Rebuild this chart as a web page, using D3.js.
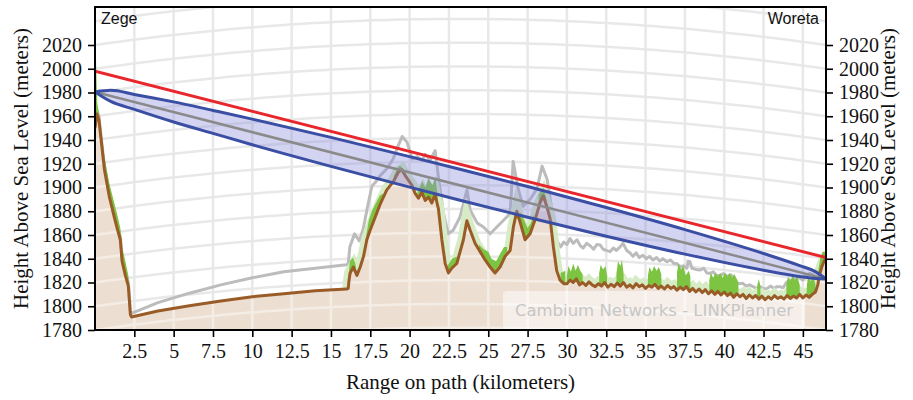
<!DOCTYPE html>
<html>
<head>
<meta charset="utf-8">
<script src="https://cdn.jsdelivr.net/npm/d3@7"></script>
<style>
  body { margin: 0; background: #fff; }
  svg { display: block; }
</style>
</head>
<body>
<svg id="chart" width="913" height="400"></svg>
<script>
// ---- Link path: Zege -> Woreta ----
const siteNames = ["Zege", "Woreta"];
const pathLengthKm = 46.47;
const heightDomain = [1780, 2052];

const xTickValues = [2.5, 5, 7.5, 10, 12.5, 15, 17.5, 20, 22.5, 25, 27.5, 30, 32.5, 35, 37.5, 40, 42.5, 45];
const yTickValues = [1780, 1800, 1820, 1840, 1860, 1880, 1900, 1920, 1940, 1960, 1980, 2000, 2020];

// Terrain profile (brown line), km along path / metres
const groundKm = [0, 0.12, 0.25, 0.34, 0.6, 0.9, 1.17, 1.4, 1.61, 1.72, 1.93, 2.12, 2.25, 2.32,
  4, 6, 8, 10, 12, 14, 16, 16.1,
  16.15, 16.22, 16.43, 16.65, 16.86, 17.07, 17.28, 17.49, 17.81, 18.13, 18.55, 18.97, 19.29, 19.51, 19.72, 19.93,
  20.14, 20.35, 20.56, 20.78, 20.99, 21.2, 21.41, 21.62, 21.83, 22.05, 22.26, 22.47, 22.68, 23.0, 23.42, 23.64,
  23.85, 24.16, 24.48, 24.8, 25.12, 25.43, 25.75, 26.07, 26.39, 26.6, 26.81, 27.02, 27.34, 27.66, 27.98, 28.29,
  28.5, 28.72, 28.93, 29.14, 29.35, 29.56, 29.8,
  30.0, 30.2, 30.4, 30.6, 30.8, 31.0, 31.2, 31.4, 31.6, 31.8, 32.0, 32.2, 32.4, 32.6, 32.8, 33.0, 33.2, 33.4,
  33.6, 33.8, 34.0, 34.2, 34.4, 34.6, 34.8, 35.0, 35.2, 35.4, 35.6, 35.8, 36.0, 36.2, 36.4, 36.6, 36.8, 37.0,
  37.2, 37.4, 37.6, 37.8, 38.0, 38.2, 38.4, 38.6, 38.8, 39.0, 39.2, 39.4, 39.6, 39.8, 40.0, 40.2, 40.4, 40.6,
  40.8, 41.0, 41.2, 41.4, 41.6, 41.8, 42.0, 42.2, 42.4, 42.6, 42.8, 43.0, 43.2, 43.4, 43.6, 43.8, 44.0, 44.2,
  44.4, 44.6, 44.8, 45.0, 45.2, 45.4, 45.6, 45.8, 45.95, 46.05, 46.2, 46.35, 46.47];
const groundM = [1950, 1962, 1957, 1946, 1915, 1893, 1878, 1866, 1856, 1838, 1826, 1817, 1793, 1791,
  1796, 1800.5, 1804.5, 1808, 1810.5, 1813, 1814.5, 1815,
  1822, 1828, 1833, 1826, 1833, 1842, 1856, 1864, 1875, 1886, 1898, 1905, 1913, 1915, 1910, 1906,
  1902, 1895, 1891, 1896, 1889, 1892, 1887, 1894, 1882, 1856, 1836, 1828, 1832, 1836, 1856, 1872,
  1864, 1853, 1846, 1839, 1833, 1828, 1833, 1842, 1847, 1867, 1880, 1871, 1856, 1861, 1873, 1887,
  1893, 1884, 1874, 1850, 1830, 1822, 1819,
  1819, 1822, 1820, 1823, 1818, 1820, 1817.5, 1820.5, 1818, 1816.5, 1819, 1817, 1820, 1816, 1818.5, 1816.5, 1819.5, 1817,
  1820, 1816, 1818, 1815.5, 1819, 1816.5, 1818, 1815, 1817.5, 1816, 1818.5, 1815, 1817, 1814.5, 1817.5, 1815, 1816.5, 1813.5,
  1816, 1814, 1816.5, 1812.5, 1815, 1812, 1814.5, 1811.5, 1814, 1810.5, 1813, 1810, 1812.5, 1809.5, 1812, 1809, 1811, 1807.5,
  1810.5, 1808, 1810, 1806.5, 1809.5, 1807, 1809, 1806, 1808.5, 1805.5, 1808, 1806, 1809, 1806.5, 1808, 1806, 1809, 1806.5,
  1808.5, 1807, 1810, 1807, 1809.5, 1807.5, 1810, 1812, 1818, 1826, 1833, 1838, 1840];

// Obstruction profile (grey line)
const obstructionKm = [0, 0.12, 0.25, 0.34, 0.6, 0.9, 1.17, 1.4, 1.61, 1.72, 1.93, 2.12, 2.25, 2.32,
  4, 6, 8, 10, 12, 14, 16, 16.1,
  16.2, 16.5, 16.8, 17.05, 17.3, 17.6, 17.8, 18.13, 18.57, 18.95, 19.27, 19.53, 19.84, 20.16, 20.48, 20.8, 20.99,
  21.3, 21.62, 21.81, 22.13, 22.45, 22.77, 23.2, 23.65, 23.85, 24.3, 24.67, 25.12, 25.56, 25.94, 26.39, 26.58,
  26.9, 27.21, 27.66, 28.1, 28.42, 28.74, 29.06,
  29.37, 29.6, 29.8, 30.0, 30.2, 30.4, 30.64, 30.85, 31.03, 31.25, 31.48, 31.7, 31.9, 32.11, 32.3, 32.5, 32.75,
  32.95, 33.15, 33.38, 33.57, 33.8, 34.0, 34.2, 34.4, 34.6, 34.83, 35.05, 35.25, 35.47, 35.7, 35.9, 36.1, 36.36,
  36.6, 36.8, 36.99, 37.2, 37.4, 37.63, 37.7, 37.82, 37.95, 38.2, 38.46, 38.7, 38.9, 39.1, 39.3, 39.5, 39.73,
  39.95, 40.2, 40.4, 40.55, 40.7, 40.9, 41.19, 41.4, 41.6, 41.83, 42.05, 42.3, 42.5, 42.72, 42.95, 43.15, 43.35,
  43.54, 43.75, 43.95, 44.18, 44.4, 44.6, 44.81, 45.0, 45.2, 45.45, 45.65, 45.85, 46.08, 46.3, 46.47];
const obstructionM = [1953, 1965, 1960, 1949, 1918, 1896, 1881, 1869, 1859, 1841, 1829, 1820, 1796, 1794,
  1803, 1811, 1818, 1824, 1829, 1832, 1835, 1836,
  1850, 1861, 1855, 1865, 1882, 1901, 1904, 1910, 1916, 1924, 1935, 1943, 1938, 1924, 1926, 1923, 1928,
  1923, 1931, 1911, 1880, 1861, 1864, 1875, 1898, 1881, 1870, 1867, 1861, 1867, 1872, 1878, 1922,
  1899, 1884, 1890, 1899, 1918, 1907, 1880,
  1855, 1850, 1854, 1852, 1857, 1853, 1856, 1851, 1849, 1853, 1851, 1848, 1852, 1851.6, 1848, 1847, 1846,
  1849, 1847, 1850, 1853, 1847, 1845, 1842, 1845, 1841, 1843, 1840, 1842, 1839, 1841, 1838, 1840, 1837.5,
  1839, 1836, 1836, 1833, 1834, 1832, 1838, 1837.5, 1832, 1831, 1830.5, 1832, 1828, 1827.7, 1829, 1826, 1826,
  1827.5, 1825, 1826.5, 1825, 1821, 1819, 1819.3, 1817, 1818, 1816.5, 1815, 1816.5, 1814.5, 1815, 1817, 1815, 1816.5,
  1816.5, 1815.5, 1820, 1822, 1821, 1824, 1824, 1822, 1826, 1827.7, 1826, 1830, 1836, 1840, 1843];

// Clutter (green) top heights; null separates patches
const clutterKm = [0, 0.06, 0.14, 0.25, 0.34, 0.6, 0.9, 1.17, 1.4, 1.61, 1.72, 1.93, 2.12, 2.25, 2.26,
  16.11, 16.2, 16.4, 16.55, 16.65, 16.66,
  17.2, 17.4, 17.6, 17.9, 18.1, 18.3, 18.31,
  19.0, 19.3, 19.5, 19.51,
  20.5, 20.8, 21.0, 21.2, 21.45, 21.65, 21.8, 21.81,
  22.4, 22.7, 23.0, 23.01,
  24.4, 24.7, 25.0, 25.2, 25.5, 25.8, 26.0, 26.2, 26.21,
  27.0, 27.3, 27.5, 27.7, 27.9, 27.91,
  28.2, 28.5, 28.7, 28.71,
  29.6, 29.9, 29.91,
  30.0, 30.1, 30.25, 30.4, 30.55, 30.7, 30.85, 31.0, 31.01,
  32.05, 32.15, 32.3, 32.45, 32.55, 32.56,
  33.15, 33.25, 33.4, 33.5, 33.6, 33.61,
  35.15, 35.25, 35.4, 35.55, 35.7, 35.85, 36.0, 36.01,
  37.0, 37.1, 37.25, 37.4, 37.55, 37.75, 37.85, 37.86,
  39.05, 39.15, 39.3, 39.45, 39.6, 39.75, 39.9, 40.05, 40.2, 40.35, 40.5, 40.65, 40.8, 40.9, 40.91,
  42.1, 42.2, 42.3, 42.31,
  43.95, 44.05, 44.2, 44.35, 44.5, 44.65, 44.8, 44.81,
  45.25, 45.35, 45.5, 45.65, 45.8, 45.81,
  45.98, 46.1, 46.25, 46.47];
const clutterTopM = [1990, 2010, 1972, 1962, 1954, 1926, 1904, 1890, 1878, 1866, 1850, 1838, 1826, 1796, null,
  1824, 1838, 1841, 1836, 1827, null,
  1856, 1872, 1880, 1888, 1893, 1895, null,
  1910, 1918, 1918, null,
  1896, 1905, 1900, 1908, 1902, 1909, 1890, null,
  1834, 1840, 1842, null,
  1852, 1848, 1846, 1840, 1838, 1845, 1850, 1850, null,
  1880, 1872, 1866, 1870, 1878, null,
  1894, 1900, 1890, null,
  1828, 1830, null,
  1826, 1834, 1829, 1836, 1830, 1835, 1830, 1827, null,
  1828, 1835, 1831, 1834, 1826, null,
  1828, 1838, 1834, 1839, 1828, null,
  1826, 1833, 1829, 1834, 1830, 1833, 1827, null,
  1829, 1836, 1831, 1834, 1826, 1830, 1825, null,
  1822, 1828, 1824, 1828, 1825, 1828, 1824, 1828, 1825, 1828, 1824, 1827, 1823, 1820, null,
  1818, 1823, 1817, null,
  1818, 1825, 1821, 1826, 1822, 1825, 1818, null,
  1818, 1825, 1821, 1826, 1818, null,
  1830, 1840, 1846, 1846];

// Radio path: straight line of sight and first Fresnel zone
const losKm = [0, 46.47];
const losTopM = [1998, 1841];
const losCentreM = [1980.5, 1823];
const fresnelKm = [0, 1, 2.5, 5, 7.5, 10, 15, 20, 23.2, 27.5, 32.5, 37.5, 42.5, 44.8, 45.8, 46.47];
const fresnelUpperM = [1980.5, 1981.8, 1978.4, 1972.1, 1964.9, 1957.6, 1942.2, 1926.0, 1915.4, 1900.8, 1883.1, 1864.5, 1844.4, 1834.2, 1829.2, 1823];
const fresnelLowerM = [1980.5, 1972.5, 1965.8, 1955.2, 1945.6, 1936.0, 1917.8, 1900.3, 1889.3, 1875.0, 1859.0, 1843.9, 1830.3, 1825.0, 1823.3, 1823];

const gridLevels = d3.range(1700, 2100, 20);
const gridRiseM = 22; // apparent earth-bulge of the background grid at mid-path

// ---- scales ----
const svg = d3.select("#chart");
const x = d3.scaleLinear().domain([0, pathLengthKm]).range([95, 826]);
const y = d3.scaleLinear().domain(heightDomain).range([330, 7]);
const [x0, x1] = x.range();
const [yb, yt] = y.range();

const zip = (a, b) => a.map((v, i) => [v, b[i]]);
const ground = zip(groundKm, groundM);
const obstruction = zip(obstructionKm, obstructionM);
const clutter = zip(clutterKm, clutterTopM);
const fresnel = fresnelKm.map((k, i) => ({ km: k, up: fresnelUpperM[i], lo: fresnelLowerM[i] }));

const defs = svg.append("defs");
defs.append("clipPath").attr("id", "plot-clip")
  .append("rect").attr("x", x0).attr("y", yt).attr("width", x1 - x0).attr("height", yb - yt);
defs.append("clipPath").attr("id", "below-ground")
  .append("path").attr("d", d3.area().x(d => x(d[0])).y0(yb).y1(d => y(d[1]))(ground));
defs.append("clipPath").attr("id", "above-ground")
  .append("path").attr("d", d3.area().x(d => x(d[0])).y0(yt).y1(d => y(d[1]))(ground));

const plot = svg.append("g").attr("clip-path", "url(#plot-clip)");

// curved background grid
function drawGrid(g, colour, width) {
  g.selectAll("line.v").data(xTickValues).join("line")
    .attr("x1", d => x(d)).attr("x2", d => x(d)).attr("y1", yt).attr("y2", yb)
    .attr("stroke", colour).attr("stroke-width", width);
  const samples = d3.range(0, 61).map(i => pathLengthKm * i / 60);
  const curve = d3.line().x(d => x(d[0])).y(d => y(d[1])).curve(d3.curveBasis);
  g.selectAll("path.h").data(gridLevels).join("path")
    .attr("d", lev => curve(samples.map(k => [k, lev + gridRiseM * 4 * k * (pathLengthKm - k) / (pathLengthKm * pathLengthKm)])))
    .attr("fill", "none").attr("stroke", colour).attr("stroke-width", width);
}
drawGrid(plot.append("g"), "#e8e8e8", 2.5);

// terrain fill
plot.append("path")
  .attr("d", d3.area().x(d => x(d[0])).y0(yb).y1(d => y(d[1]))(ground))
  .attr("fill", "#ecdfd2");
drawGrid(plot.append("g").attr("clip-path", "url(#below-ground)"), "#f4ede6", 2.5);

// watermark
const wm = plot.append("g");
wm.append("rect").attr("x", x1 - 323).attr("y", yb - 39).attr("width", 302).attr("height", 38)
  .attr("rx", 4).attr("fill", "#fff").attr("opacity", 0.5);
wm.append("text").attr("x", x1 - 172).attr("y", yb - 14).attr("text-anchor", "middle")
  .attr("font-family", "DejaVu Sans").attr("font-size", 16.5).attr("fill", "#c6c6c6")
  .text("Cambium Networks - LINKPlanner");

// obstruction line
plot.append("path")
  .attr("d", d3.line().x(d => x(d[0])).y(d => y(d[1]))(obstruction))
  .attr("fill", "none").attr("stroke", "#bcbcbc").attr("stroke-width", 3).attr("stroke-linejoin", "round");

// pale clutter band just above the ground
plot.append("path")
  .attr("clip-path", "url(#above-ground)")
  .attr("d", d3.line().x(d => x(d[0])).y(d => y(d[1]))(ground.filter(d => d[0] >= 16.1)))
  .attr("fill", "none").attr("stroke", "#d6ebc6").attr("stroke-width", 12);

// green clutter
plot.append("path")
  .attr("clip-path", "url(#above-ground)")
  .attr("d", d3.area().defined(d => d[1] !== null).x(d => x(d[0])).y0(yb).y1(d => y(d[1]))(clutter))
  .attr("fill", "#7dc443");

// ground line
plot.append("path")
  .attr("d", d3.line().x(d => x(d[0])).y(d => y(d[1]))(ground))
  .attr("fill", "none").attr("stroke", "#9a5c26").attr("stroke-width", 3).attr("stroke-linejoin", "round");

// Fresnel zone
plot.append("path")
  .attr("d", d3.area().x(d => x(d.km)).y0(d => y(d.lo)).y1(d => y(d.up)).curve(d3.curveMonotoneX)(fresnel))
  .attr("fill", "#8c8cdc").attr("fill-opacity", 0.38);
plot.append("path")
  .attr("d", d3.line()(zip(losKm.map(x), losCentreM.map(y))))
  .attr("stroke", "#8a8a8a").attr("stroke-width", 2.5);
["up", "lo"].forEach(side => {
  plot.append("path")
    .attr("d", d3.line().x(d => x(d.km)).y(d => y(d[side])).curve(d3.curveMonotoneX)(fresnel))
    .attr("fill", "none").attr("stroke", "#3a4ea4").attr("stroke-width", 3);
});
plot.append("path")
  .attr("d", d3.line()(zip(losKm.map(x), losTopM.map(y))))
  .attr("stroke", "#e8262b").attr("stroke-width", 3);

// site names
svg.append("text").attr("x", x0 + 6).attr("y", 24).attr("font-family", "Liberation Sans")
  .attr("font-size", 16).attr("fill", "#111").text(siteNames[0]);
svg.append("text").attr("x", x1 - 7).attr("y", 24).attr("text-anchor", "end").attr("font-family", "Liberation Sans")
  .attr("font-size", 16).attr("fill", "#111").text(siteNames[1]);

// axes
const tickFont = g => {
  g.select(".domain").remove();
  g.selectAll(".tick line").attr("stroke", "#000").attr("stroke-width", 1.6);
  g.selectAll(".tick text").attr("font-family", "Liberation Serif").attr("font-size", 20).attr("fill", "#111");
};
svg.append("g").attr("transform", `translate(${x0},0)`)
  .call(d3.axisLeft(y).tickValues(yTickValues).tickSize(7).tickPadding(6).tickFormat(d3.format("d")))
  .call(tickFont);
svg.append("g").attr("transform", `translate(${x1},0)`)
  .call(d3.axisRight(y).tickValues(yTickValues).tickSize(7).tickPadding(6).tickFormat(d3.format("d")))
  .call(tickFont);
svg.append("g").attr("transform", `translate(0,${yb})`)
  .call(d3.axisBottom(x).tickValues(xTickValues).tickSize(7).tickPadding(7).tickFormat(d => String(d)))
  .call(tickFont);

svg.append("rect").attr("x", x0).attr("y", yt).attr("width", x1 - x0).attr("height", yb - yt)
  .attr("fill", "none").attr("stroke", "#000").attr("stroke-width", 2);

// axis titles
const titleFont = t => t.attr("font-family", "Liberation Serif").attr("font-size", 21).attr("fill", "#111").attr("text-anchor", "middle");
svg.append("text").attr("transform", `translate(28,${(yt + yb) / 2}) rotate(-90)`)
  .call(titleFont).text("Height Above Sea Level (meters)");
svg.append("text").attr("transform", `translate(895,${(yt + yb) / 2}) rotate(-90)`)
  .call(titleFont).text("Height Above Sea Level (meters)");
svg.append("text").attr("x", (x0 + x1) / 2).attr("y", 389)
  .call(titleFont).text("Range on path (kilometers)");
</script>
</body>
</html>
